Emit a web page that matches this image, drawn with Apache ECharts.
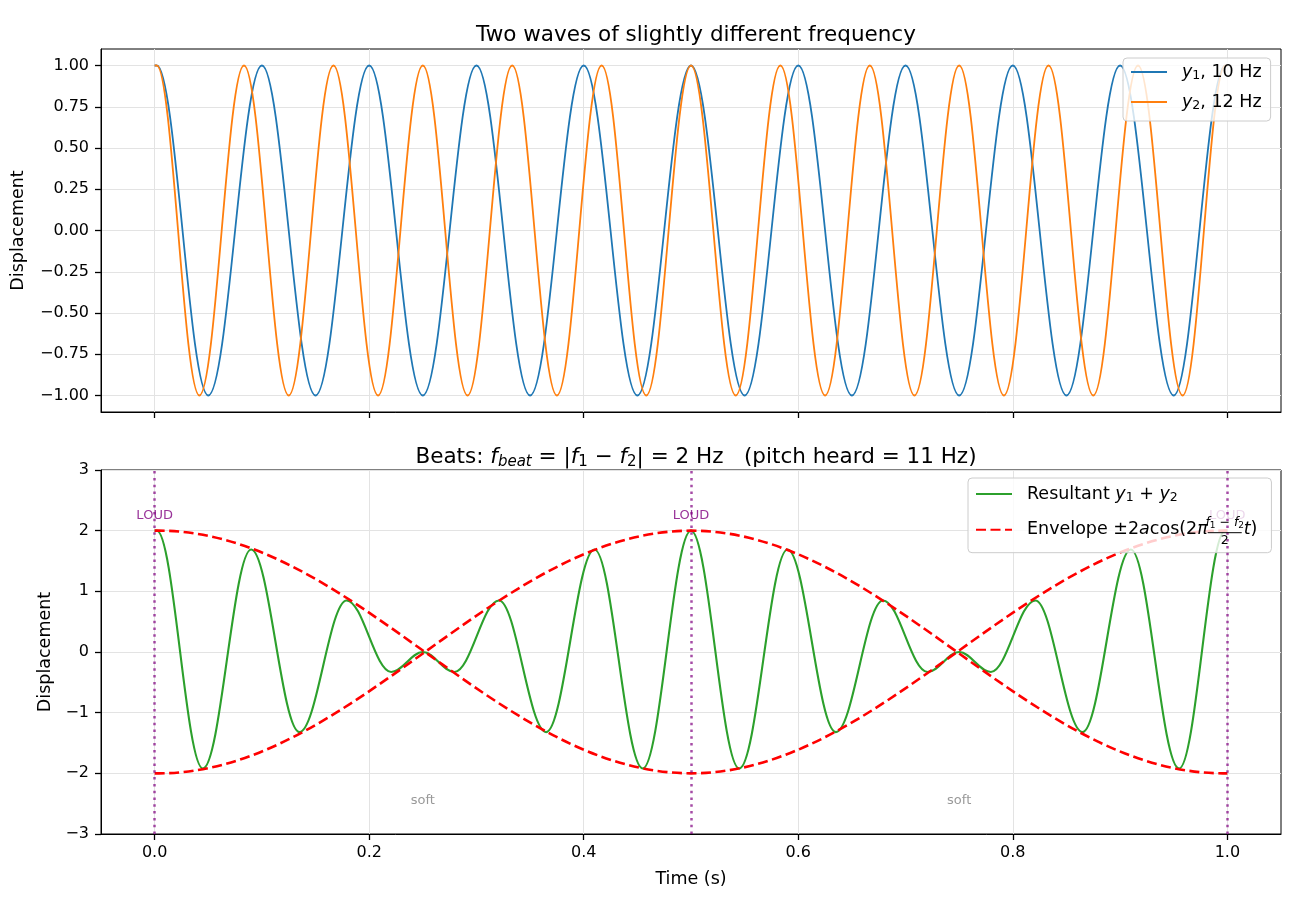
<!DOCTYPE html>
<html><head><meta charset="utf-8">
<script src="https://cdn.jsdelivr.net/npm/echarts@6/dist/echarts.min.js"></script>
<style>html,body{margin:0;padding:0;background:#fff}#c{width:1300px;height:910px}</style>
</head><body><div id="c"></div>
<script>
const FONT = 'DejaVu Sans';

// ---- data ----
// times of extrema (s) and displacement values there
const y1Times = [0, 0.002, 0.05, 0.1, 0.15, 0.2, 0.25, 0.3, 0.35, 0.4, 0.45, 0.5, 0.55, 0.6, 0.65, 0.7, 0.75, 0.8, 0.85, 0.9, 0.95, 0.998, 1.0];
const y1Values = [1, 1, -1, 1, -1, 1, -1, 1, -1, 1, -1, 1, -1, 1, -1, 1, -1, 1, -1, 1, -1, 1, 1];
const y2Times = [0, 0.002, 0.0417, 0.0833, 0.125, 0.1667, 0.2083, 0.25, 0.2917, 0.3333, 0.375, 0.4167, 0.4583, 0.5, 0.5417, 0.5833, 0.625, 0.6667, 0.7083, 0.75, 0.7917, 0.8333, 0.875, 0.9167, 0.9583, 0.998, 1.0];
const y2Values = [1, 1, -1, 1, -1, 1, -1, 1, -1, 1, -1, 1, -1, 1, -1, 1, -1, 1, -1, 1, -1, 1, -1, 1, -1, 1, 1];
const sumTimes = [0, 0.002, 0.045, 0.090, 0.135, 0.179, 0.2205, 0.25, 0.2795, 0.321, 0.365, 0.410, 0.455, 0.5, 0.545, 0.590, 0.635, 0.679, 0.7205, 0.75, 0.7795, 0.821, 0.865, 0.910, 0.955, 0.998, 1.0];
const sumValues = [2, 2, -1.92, 1.69, -1.32, 0.85, -0.33, 0, -0.33, 0.85, -1.32, 1.69, -1.92, 2, -1.92, 1.69, -1.32, 0.85, -0.33, 0, -0.33, 0.85, -1.32, 1.69, -1.92, 2, 2];
const envTimes = [0, 0.004, 0.5, 0.996, 1.0];
const envUpper = [2, 2, -2, 2, 2];
const envLower = [-2, -2, 2, -2, -2];
const loudTimes = [0, 0.5, 1.0];
const loudY = 2.25;
const softTimes = [0.25, 0.75];
const softY = -2.45;
const xTicks = [0, 0.2, 0.4, 0.6, 0.8, 1.0];
const yTopTicks = [-1, -0.75, -0.5, -0.25, 0, 0.25, 0.5, 0.75, 1];
const titleTop = 'Two waves of slightly different frequency';

const pairs = (xs, ys) => xs.map((x, i) => [x, ys[i]]);
const minus = s => s.replace('-', '\u2212');

const chart = echarts.init(document.getElementById('c'), null, {renderer: 'canvas'});

const tickLabel = {fontFamily: FONT, fontSize: 16, color: '#000'};
const LH = 20;
const legRich = {
  sp: {width: 10, fontSize: 17.5, fontFamily: FONT, lineHeight: LH},
  t: {fontSize: 17.5, fontFamily: FONT, color: '#000', lineHeight: LH},
  i: {fontSize: 17.5, fontFamily: FONT, fontStyle: 'italic', color: '#000', lineHeight: LH},
  s: {fontSize: 12.5, fontFamily: FONT, color: '#000', lineHeight: 12, verticalAlign: 'bottom'},
  fr: {width: 36, fontSize: 17.5, fontFamily: FONT, lineHeight: LH}
};
const legendNames = {
  'y1': '{sp| }{i|y}{s|1}{t|, 10 Hz}',
  'y2': '{sp| }{i|y}{s|2}{t|, 12 Hz}',
  'Resultant': '{sp| }{t|Resultant }{i|y}{s|1}{t| + }{i|y}{s|2}',
  'Envelope': '{sp| }{t|Envelope \u00b12}{i|a}{t|cos(2}{i|\u03c0}{fr| }{i|t}{t|)}'
};

function xAxisDef(grid, showLabels) {
  return {
    gridIndex: grid, type: 'value', min: -0.05, max: 1.05,
    name: showLabels ? 'Time (s)' : '', nameLocation: 'middle', nameGap: 36,
    nameTextStyle: {fontFamily: FONT, fontSize: 17.5, color: '#000'},
    axisLine: {show: true, onZero: false, lineStyle: {color: '#000', width: 1}},
    axisTick: {show: true, inside: false, length: 6, lineStyle: {color: '#000', width: 1.3}, customValues: xTicks},
    axisLabel: Object.assign({show: showLabels, margin: 11, customValues: xTicks, formatter: v => v.toFixed(1)}, tickLabel),
    splitLine: {show: true, lineStyle: {color: '#e3e3e3', width: 1}}
  };
}

const legendCommon = {
  orient: 'vertical', itemWidth: 36, itemHeight: LH,
  backgroundColor: 'rgba(255,255,255,0.8)', borderColor: '#cccccc', borderWidth: 1, borderRadius: 4,
  itemStyle: {opacity: 0}, selectedMode: false,
  formatter: n => legendNames[n], textStyle: {rich: legRich}
};

const titleRich = {
  t: {fontFamily: FONT, fontSize: 21.5, fontWeight: 'normal', color: '#000', lineHeight: 26},
  i: {fontFamily: FONT, fontSize: 21.5, fontWeight: 'normal', fontStyle: 'italic', color: '#000', lineHeight: 26},
  sb: {fontFamily: FONT, fontSize: 15, fontWeight: 'normal', fontStyle: 'italic', color: '#000', lineHeight: 15, verticalAlign: 'bottom'},
  sn: {fontFamily: FONT, fontSize: 15, fontWeight: 'normal', color: '#000', lineHeight: 15, verticalAlign: 'bottom'}
};

const option = {
  animation: false,
  backgroundColor: '#fff',
  title: [
    {text: titleTop, left: 691, top: 19, textAlign: 'center',
     textStyle: {fontFamily: FONT, fontSize: 21.5, fontWeight: 'normal', color: '#000'}},
    {text: '{t|Beats: }{i|f}{sb|beat}{t| = |}{i|f}{sn|1}{t| \u2212 }{i|f}{sn|2}{t|| = 2 Hz   (pitch heard = 11 Hz)}',
     left: 691, top: 439, textAlign: 'center',
     textStyle: {fontFamily: FONT, fontSize: 21.5, fontWeight: 'normal', color: '#000', rich: titleRich}}
  ],
  grid: [
    {left: 101, top: 49, width: 1180, height: 363, show: true, borderColor: '#000', borderWidth: 1},
    {left: 101, top: 470, width: 1180, height: 364, show: true, borderColor: '#000', borderWidth: 1}
  ],
  xAxis: [xAxisDef(0, false), xAxisDef(1, true)],
  yAxis: [
    {gridIndex: 0, type: 'value', min: -1.1, max: 1.1,
     name: 'Displacement', nameLocation: 'middle', nameGap: 74, nameRotate: 90,
     nameTextStyle: {fontFamily: FONT, fontSize: 17.5, color: '#000'},
     axisLine: {show: true, onZero: false, lineStyle: {color: '#000', width: 1}},
     axisTick: {show: true, length: 6, lineStyle: {color: '#000', width: 1.3}, customValues: yTopTicks},
     axisLabel: Object.assign({margin: 12, customValues: yTopTicks, formatter: v => minus(v.toFixed(2))}, tickLabel),
     splitLine: {show: true, lineStyle: {color: '#e3e3e3', width: 1}}},
    {gridIndex: 1, type: 'value', min: -3, max: 3, interval: 1,
     name: 'Displacement', nameLocation: 'middle', nameGap: 43, nameRotate: 90,
     nameTextStyle: {fontFamily: FONT, fontSize: 17.5, color: '#000'},
     axisLine: {show: true, onZero: false, lineStyle: {color: '#000', width: 1}},
     axisTick: {show: true, length: 6, lineStyle: {color: '#000', width: 1.3}},
     axisLabel: Object.assign({margin: 12, formatter: v => minus(String(v))}, tickLabel),
     splitLine: {show: true, lineStyle: {color: '#e3e3e3', width: 1}}}
  ],
  legend: [
    Object.assign({data: ['y1', 'y2'], left: 1123, top: 58, itemGap: 11, padding: [5, 9, 9, 7]}, legendCommon),
    Object.assign({data: ['Resultant', 'Envelope'], left: 968, top: 478, itemGap: 16.7, padding: [7, 14, 14, 7]}, legendCommon)
  ],
  series: [
    {name: 'y1', type: 'line', xAxisIndex: 0, yAxisIndex: 0, data: pairs(y1Times, y1Values),
     smooth: 0.363, smoothMonotone: 'x', symbol: 'none', lineStyle: {color: '#1f77b4', width: 1.8}, itemStyle: {color: '#1f77b4'}},
    {name: 'y2', type: 'line', xAxisIndex: 0, yAxisIndex: 0, data: pairs(y2Times, y2Values),
     smooth: 0.363, smoothMonotone: 'x', symbol: 'none', lineStyle: {color: '#ff7f0e', width: 1.8}, itemStyle: {color: '#ff7f0e'}},
    {name: 'Resultant', type: 'line', xAxisIndex: 1, yAxisIndex: 1, data: pairs(sumTimes, sumValues),
     smooth: 0.363, smoothMonotone: 'x', symbol: 'none', lineStyle: {color: '#2ca02c', width: 2.1}, itemStyle: {color: '#2ca02c'}},
    {name: 'Envelope', type: 'line', xAxisIndex: 1, yAxisIndex: 1, data: pairs(envTimes, envUpper),
     smooth: 0.363, smoothMonotone: 'x', symbol: 'none', lineStyle: {color: '#ff0000', width: 2.6, type: [10, 4.5]}, itemStyle: {color: '#ff0000'}},
    {name: 'Envelope', type: 'line', xAxisIndex: 1, yAxisIndex: 1, data: pairs(envTimes, envLower),
     smooth: 0.363, smoothMonotone: 'x', symbol: 'none', lineStyle: {color: '#ff0000', width: 2.6, type: [10, 4.5]}, itemStyle: {color: '#ff0000'}},
    {name: 'loud', type: 'scatter', xAxisIndex: 1, yAxisIndex: 1, z: 3, symbolSize: 0,
     data: loudTimes.map(t => [t, loudY]),
     label: {show: true, position: 'inside', formatter: 'LOUD', fontFamily: FONT, fontSize: 13, color: '#800080'},
     markLine: {silent: true, symbol: 'none', label: {show: false},
       lineStyle: {color: 'rgba(128,0,128,0.7)', width: 2.5, type: [2.5, 4.3]},
       data: loudTimes.map(t => ({xAxis: t}))}},
    {name: 'soft', type: 'scatter', xAxisIndex: 1, yAxisIndex: 1, symbolSize: 0,
     data: softTimes.map(t => [t, softY]),
     label: {show: true, position: 'inside', formatter: 'soft', fontFamily: FONT, fontSize: 13, color: '#808080'}}
  ]
};
chart.setOption(option);

// fraction for the envelope legend entry (stacked numerator/denominator)
const ctx = document.createElement('canvas').getContext('2d');
function tw(text, italic) { ctx.font = (italic ? 'italic ' : '') + '17.5px "DejaVu Sans"'; return ctx.measureText(text).width; }
const fx = 968 + 7 + 36 + 5 + 10 + tw('Envelope \u00b12') + tw('a', true) + tw('cos(2') + tw('\u03c0', true);
const rowY = 478 + 7 + LH + 16.7 + LH / 2;
chart.setOption({graphic: [
  {type: 'text', z: 100, x: fx + 18, y: rowY - 9, style: {text: '{i|f}{s|1}{t| \u2212 }{i|f}{s|2}', align: 'center', verticalAlign: 'middle',
    rich: {i: {fontFamily: FONT, fontSize: 12.5, fontStyle: 'italic', fill: '#000', lineHeight: 14},
           t: {fontFamily: FONT, fontSize: 12.5, fill: '#000', lineHeight: 14},
           s: {fontFamily: FONT, fontSize: 9, fill: '#000', lineHeight: 9, verticalAlign: 'bottom'}}}},
  {type: 'line', z: 100, shape: {x1: fx + 1, y1: rowY + 1, x2: fx + 35, y2: rowY + 1}, style: {stroke: '#000', lineWidth: 1}},
  {type: 'text', z: 100, x: fx + 18, y: rowY + 9, style: {text: '2', align: 'center', verticalAlign: 'middle', font: '12.5px "DejaVu Sans"', fill: '#000'}}
]});
</script></body></html>
